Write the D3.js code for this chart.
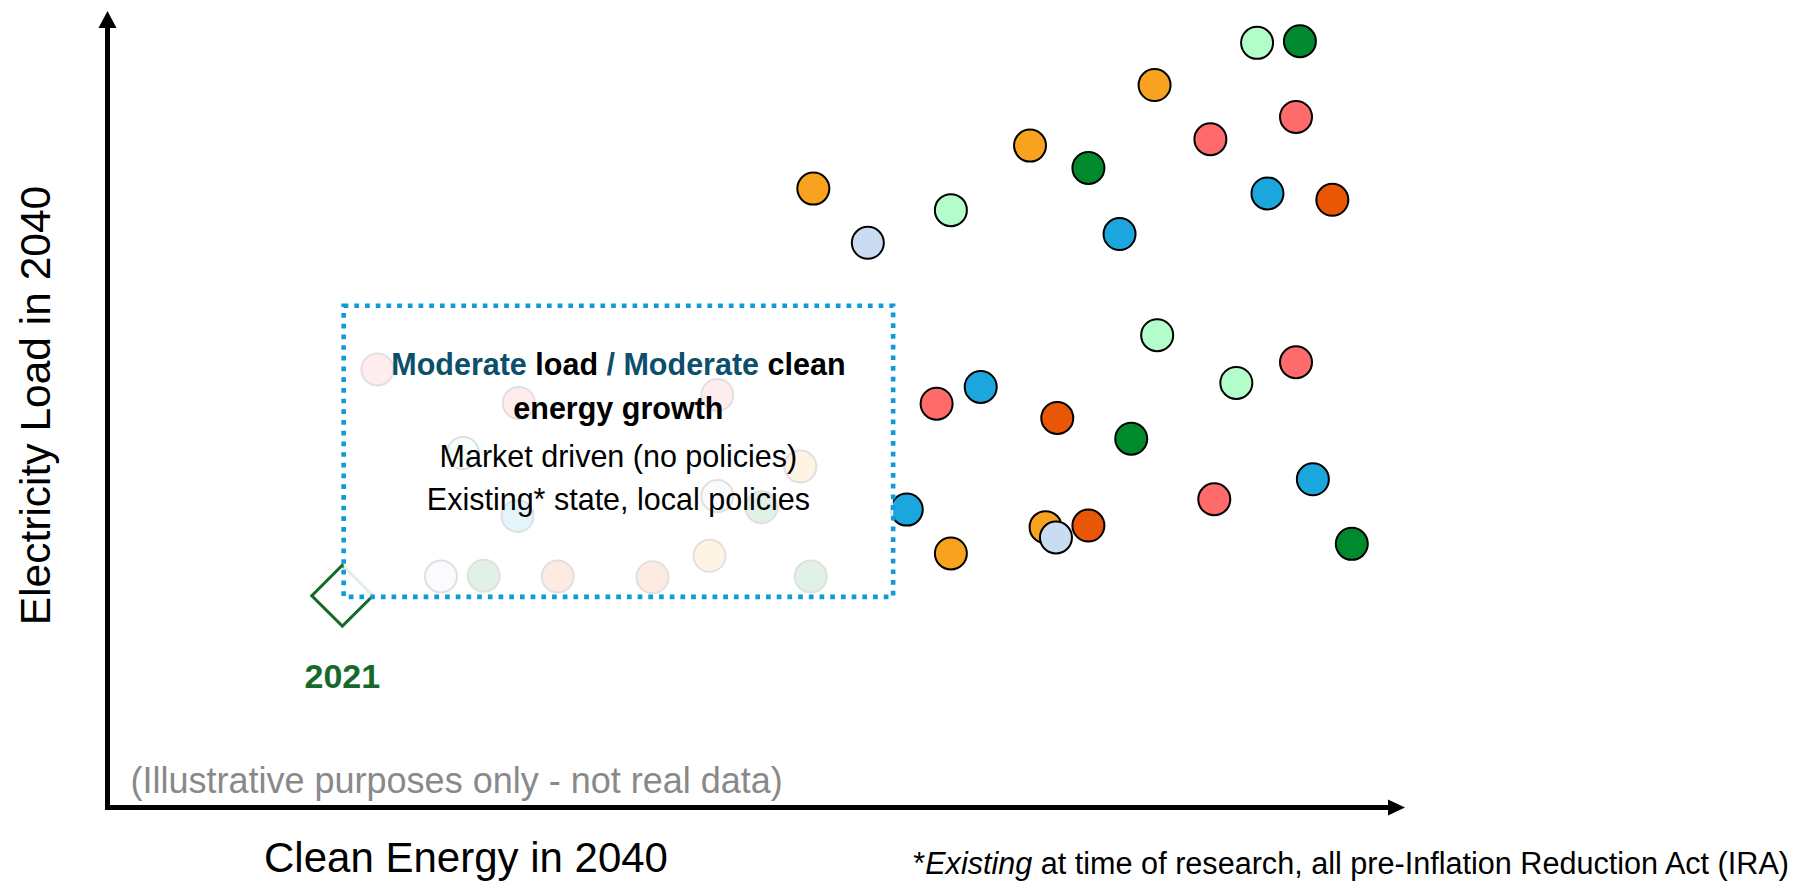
<!DOCTYPE html>
<html>
<head>
<meta charset="utf-8">
<script src="https://cdn.jsdelivr.net/npm/d3@7/dist/d3.min.js"></script>
<style>
  html, body { margin: 0; padding: 0; background: #ffffff; }
  svg { display: block; }
  text { font-family: "Liberation Sans", Arial, Helvetica, sans-serif; }
</style>
</head>
<body>
<svg id="chart" width="1795" height="883"></svg>
<script>
// ---------------- DATA (illustrative units 0-100 on both axes) ----------------
const seriesNames = ["orange", "lavender", "lightGreen", "darkGreen", "blue", "salmon", "orangeRed"];

const orangePts     = [[54.4, 77.7], [71.1, 83.1], [80.7, 90.7], [65.0, 31.9], [72.3, 35.2], [53.4, 42.8], [46.4, 31.6]];
const lavenderPts   = [[58.6, 70.9], [73.1, 33.9], [47.0, 39.1], [25.7, 29.0]];
const lightGreenPts = [[65.0, 75.0], [88.6, 96.0], [80.9, 59.3], [87.0, 53.3], [27.4, 44.5]];
const darkGreenPts  = [[75.6, 80.3], [91.9, 96.2], [78.9, 46.3], [95.9, 33.1], [50.4, 37.7], [29.0, 29.1], [54.2, 29.0]];
const bluePts       = [[78.0, 72.0], [89.4, 77.1], [67.3, 52.8], [61.6, 37.4], [92.9, 41.2], [31.6, 36.6]];
const salmonPts     = [[85.0, 83.9], [91.6, 86.7], [63.9, 50.7], [91.6, 55.9], [85.3, 38.7], [20.8, 55.0], [31.7, 50.8], [47.0, 51.8]];
const orangeRedPts  = [[94.4, 76.3], [73.2, 48.9], [75.6, 35.4], [34.7, 29.0], [42.0, 28.9]];

const baseline2021 = [18.1, 26.6];          // 2021 point
const boxX = [18.2, 60.55];                   // "moderate / moderate" scenario region
const boxY = [26.45, 63.0];

const xTitle = "Clean Energy in 2040";
const yTitle = "Electricity Load in 2040";
const pointLabel = "2021";
const disclaimer = "(Illustrative purposes only - not real data)";
const boxLine1 = [["Moderate", "hl"], [" load ", "n"], ["/", "hl"], [" Moderate", "hl"], [" clean", "n"]];
const boxLine2 = "energy growth";
const boxLine3 = "Market driven (no policies)";
const boxLine4 = "Existing* state, local policies";
const footnote = [["*", "normal"], ["Existing", "italic"], [" at time of research, all pre-Inflation Reduction Act (IRA)", "normal"]];

// ---------------- STYLE ----------------
const colors = {
  orange: "#F8A31F",
  lavender: "#CADCF2",
  lightGreen: "#B3FDCA",
  darkGreen: "#01892E",
  blue: "#1CA6DE",
  salmon: "#FF6B6B",
  orangeRed: "#E85606"
};
const seriesData = {
  orange: orangePts, lavender: lavenderPts, lightGreen: lightGreenPts,
  darkGreen: darkGreenPts, blue: bluePts, salmon: salmonPts, orangeRed: orangeRedPts
};

const svg = d3.select("#chart");
const x = d3.scaleLinear().domain([0, 100]).range([107.5, 1405]);
const y = d3.scaleLinear().domain([0, 100]).range([807.5, 11]);

// ---------------- POINTS ----------------
const points = [];
seriesNames.forEach(s => seriesData[s].forEach(p => points.push({ s, x: p[0], y: p[1] })));

svg.append("g").selectAll("circle")
  .data(points)
  .join("circle")
  .attr("cx", d => x(d.x))
  .attr("cy", d => y(d.y))
  .attr("r", 16)
  .attr("fill", d => colors[d.s])
  .attr("stroke", "#000")
  .attr("stroke-width", 2);

// 2021 diamond
const green21 = "#16692B";
svg.append("path")
  .attr("d", d3.symbol(d3.symbolSquare, 1870)())
  .attr("transform", `translate(${x(baseline2021[0])},${y(baseline2021[1])}) rotate(45)`)
  .attr("fill", "none")
  .attr("stroke", green21)
  .attr("stroke-width", 3);

svg.append("text")
  .attr("x", x(baseline2021[0]))
  .attr("y", y(baseline2021[1]) + 92)
  .attr("text-anchor", "middle")
  .attr("font-size", 34)
  .attr("font-weight", "bold")
  .attr("fill", green21)
  .text(pointLabel);

// ---------------- SCENARIO BOX ----------------
const bx0 = x(boxX[0]), bx1 = x(boxX[1]), by0 = y(boxY[1]), by1 = y(boxY[0]);
svg.append("rect")
  .attr("x", bx0).attr("y", by0)
  .attr("width", bx1 - bx0).attr("height", by1 - by0)
  .attr("fill", "#ffffff").attr("fill-opacity", 0.88)
  .attr("stroke", "#0E9BD6").attr("stroke-width", 4.6)
  .attr("stroke-dasharray", "4.7 6");

const bcx = (bx0 + bx1) / 2;
const teal = "#0B4F6C";
const t1 = svg.append("text")
  .attr("x", bcx).attr("y", by0 + 69.5)
  .attr("text-anchor", "middle").attr("font-size", 30.5).attr("font-weight", "bold")
  .attr("xml:space", "preserve");
t1.selectAll("tspan").data(boxLine1).join("tspan")
  .attr("fill", d => d[1] === "hl" ? teal : "#000")
  .text(d => d[0]);

svg.append("text")
  .attr("x", bcx).attr("y", by0 + 113)
  .attr("text-anchor", "middle").attr("font-size", 30.5).attr("font-weight", "bold")
  .attr("fill", "#000").text(boxLine2);
svg.append("text")
  .attr("x", bcx).attr("y", by0 + 161)
  .attr("text-anchor", "middle").attr("font-size", 30.5)
  .attr("fill", "#000").text(boxLine3);
svg.append("text")
  .attr("x", bcx).attr("y", by0 + 204.5)
  .attr("text-anchor", "middle").attr("font-size", 30.5)
  .attr("fill", "#000").text(boxLine4);

// ---------------- AXES (arrows) ----------------
const ax = svg.append("g");
ax.append("line")
  .attr("x1", x(0)).attr("y1", y(0) + 2.5)
  .attr("x2", x(0)).attr("y2", y(100) + 14)
  .attr("stroke", "#000").attr("stroke-width", 5);
ax.append("path")
  .attr("d", `M${x(0) - 9},${y(100) + 17} L${x(0)},${y(100)} L${x(0) + 9},${y(100) + 17} Z`)
  .attr("fill", "#000");
ax.append("line")
  .attr("x1", x(0) - 2.5).attr("y1", y(0))
  .attr("x2", x(100) - 14).attr("y2", y(0))
  .attr("stroke", "#000").attr("stroke-width", 5);
ax.append("path")
  .attr("d", `M${x(100) - 17},${y(0) - 8} L${x(100)},${y(0)} L${x(100) - 17},${y(0) + 8} Z`)
  .attr("fill", "#000");

// axis titles
svg.append("text")
  .attr("x", 466).attr("y", 872)
  .attr("text-anchor", "middle").attr("font-size", 42).attr("fill", "#000")
  .text(xTitle);
svg.append("text")
  .attr("transform", "translate(49.5,405.5) rotate(-90)")
  .attr("text-anchor", "middle").attr("font-size", 42.5).attr("fill", "#000")
  .text(yTitle);

// disclaimer
svg.append("text")
  .attr("x", 130.5).attr("y", 793)
  .attr("font-size", 36).attr("fill", "#898989")
  .text(disclaimer);

// footnote
const fn = svg.append("text")
  .attr("x", 1789).attr("y", 874)
  .attr("text-anchor", "end")
  .attr("font-size", 30.6).attr("fill", "#000")
  .attr("xml:space", "preserve");
fn.selectAll("tspan").data(footnote).join("tspan")
  .attr("font-style", d => d[1])
  .text(d => d[0]);
</script>
</body>
</html>
